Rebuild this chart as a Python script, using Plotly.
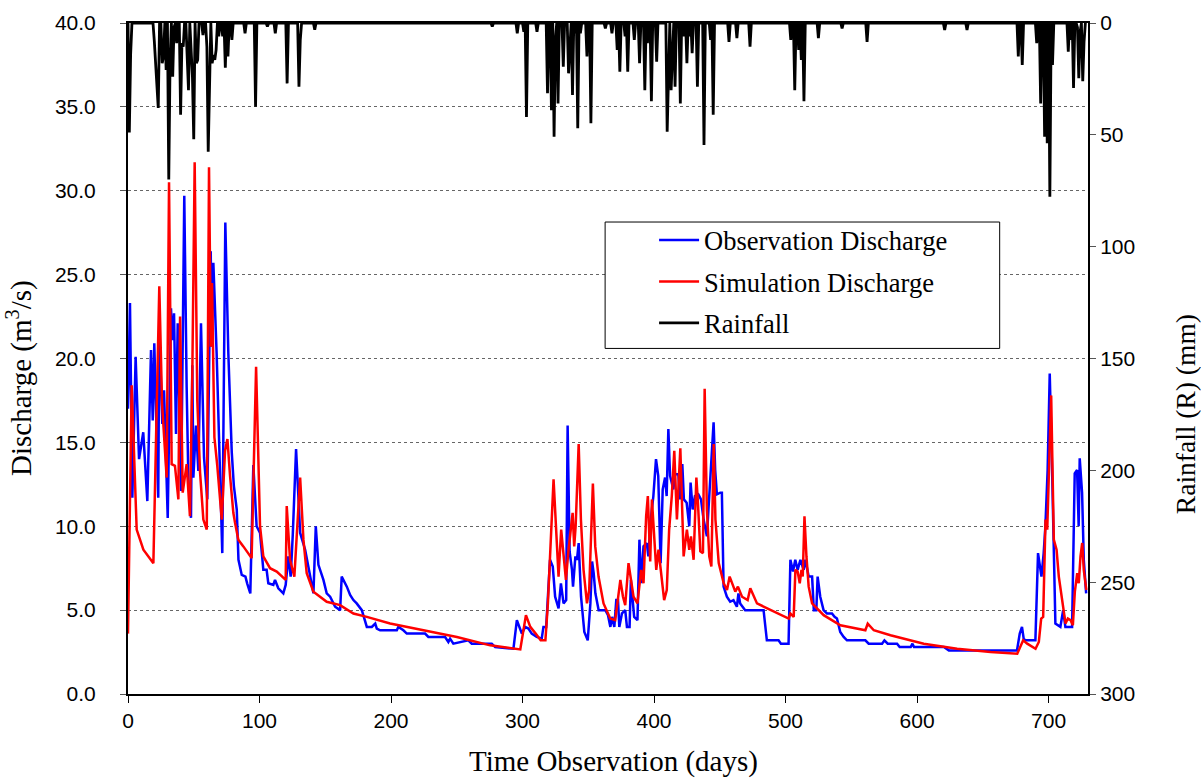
import plotly.graph_objects as go
import numpy as np

# ---------------- data ----------------
obs_days = [0, 1.5, 3.3, 5.8, 8.4, 11.6, 14.7, 17.5, 18.8, 20.0, 23.0, 23.8, 26.1, 27.4, 30.2, 32.7,
            33.7, 35.0, 36.5, 37.8, 40.4, 42.8, 44.6, 45.9, 47.9, 48.9, 49.7, 51.7, 53.5, 55.5, 57.8,
            60.3, 62.9, 63.7, 64.9, 67.4, 69.9, 71.7, 74.0, 76.3, 78.9, 80.5, 82.7, 84.0, 86.5, 89.3,
            90.6, 93.0, 95.3, 96.6, 97.8, 100.4, 102.9, 105.4, 106.7, 110.5, 111.8, 114.3, 118.1,
            119.9, 121.9, 123.7, 125.3, 127.8, 129.1, 130.9, 134.7, 136.7, 139.8, 141.0, 142.8, 144.8,
            148.6, 151.1, 153.7, 157.5, 161.3, 162.5, 166.4, 168.9, 171.4, 173.9, 177.8, 181.6, 185.4,
            188.0, 189.2, 191.7, 204.4, 205.6, 209.4, 212.0, 225.9, 228.4, 241.1, 243.6, 244.9, 247.4,
            258.8, 261.4, 276.6, 279.2, 293.1, 295.7, 299.5, 302.0, 304.5, 307.0, 310.8, 314.6, 315.9,
            318.0, 320.9, 323.0, 324.8, 327.4, 329.2, 331.2, 333.2, 334.3, 335.8, 337.6, 338.4, 340.2,
            341.4, 342.7, 344.5, 347.0, 349.6, 351.6, 352.9, 354.1, 355.4, 357.9, 363.0, 365.0, 366.8,
            368.1, 369.8, 371.3, 372.6, 373.6, 375.6, 378.1, 379.4, 381.4, 382.4, 384.9, 387.4, 388.9,
            390.2, 392.0, 394.5, 395.7, 397.5, 399.5, 401.5, 403.2, 405.0, 406.6, 408.4, 409.6, 410.9,
            412.2, 414.7, 416.0, 418.5, 419.7, 421.5, 422.7, 424.8, 426.8, 427.8, 429.4, 431.1, 433.7,
            435.7, 437.7, 440.2, 445.3, 446.5, 447.8, 450.4, 451.6, 452.9, 455.4, 457.9, 460.4, 463.0,
            464.2, 465.5, 469.3, 483.3, 485.8, 494.7, 496.5, 502.3, 503.7, 505.7, 507.4, 509.2, 511.3,
            513.8, 515.1, 517.6, 520.2, 521.5, 523.4, 524.4, 526.4, 528.9, 531.5, 535.3, 537.3, 539.1,
            541.6, 544.2, 546.7, 560.7, 563.2, 573.4, 575.2, 577.7, 584.8, 586.8, 595.2, 596.5, 597.7,
            620.4, 624.2, 676.0, 678.1, 679.8, 681.1, 682.4, 690.0, 692.0, 694.6, 696.3, 697.6, 699.3,
            700.9, 702.7, 705.2, 709.0, 711.1, 712.8, 717.9, 719.9, 721.7, 722.9, 723.7, 725.5, 726.8,
            728.6]
obs_q = [17.0, 23.3, 11.7, 20.1, 14.0, 15.6, 11.5, 20.5, 16.3, 20.9, 11.7, 21.7, 16.1, 18.1, 10.5, 23.0,
         21.1, 22.7, 15.5, 22.1, 12.1, 29.7, 18.3, 12.8, 10.5, 19.6, 12.9, 16.0, 13.3, 22.1, 14.1,
         11.6, 26.4, 20.7, 25.7, 20.3, 13.4, 8.4, 28.1, 20.3, 14.4, 12.4, 11.0, 8.0, 7.1, 7.0,
         6.6, 6.0, 13.65, 12.0, 10.0, 9.6, 7.4, 7.4, 6.6, 6.5, 6.8, 6.3, 6.0,
         6.5, 8.2, 7.0, 9.5, 14.6, 12.4, 9.6, 8.6, 7.8, 6.4, 6.0, 10.0, 7.7,
         6.8, 6.0, 5.8, 5.2, 5.0, 7.0, 6.4, 5.9, 5.6, 5.4, 5.0, 4.0, 4.0,
         4.2, 3.9, 3.8, 3.8, 4.0, 3.8, 3.6, 3.6, 3.4, 3.4, 3.1, 3.3, 3.0,
         3.2, 3.0, 3.0, 2.8, 2.7, 4.4, 3.6, 4.0, 3.9, 3.6, 3.4, 3.3, 4.0,
         4.0, 8.0, 7.6, 5.8, 5.1, 6.6, 5.4, 5.6, 16.0, 8.5, 7.4, 6.4, 8.2,
         8.0, 9.0, 5.8, 3.7, 3.2, 5.4, 7.9, 7.2, 6.0, 5.0, 5.0, 4.7, 4.0,
         4.6, 4.0, 5.6, 5.6, 4.0, 4.8, 5.0, 4.0, 4.0, 6.8, 4.6, 4.4, 9.2,
         6.6, 8.8, 9.0, 8.2, 10.4, 11.8, 14.0, 13.0, 7.8, 12.2, 12.9, 11.8, 15.8,
         13.0, 12.2, 13.1, 13.1, 11.6, 13.7, 11.6, 11.4, 10.0, 12.6, 11.0, 11.8, 11.9,
         11.6, 10.4, 9.4, 16.2, 13.35, 11.9, 12.0, 12.0, 6.4, 5.8, 5.5, 5.6, 5.2,
         6.0, 5.4, 5.0, 5.0, 3.2, 3.2, 3.0, 3.0, 8.0, 7.3, 8.0, 7.4, 8.0,
         7.4, 8.0, 7.0, 7.0, 5.0, 5.0, 7.0, 5.8, 5.0, 4.8, 4.8, 4.6, 4.5,
         3.7, 3.4, 3.2, 3.2, 3.0, 3.0, 3.2, 3.0, 3.0, 2.8, 2.8, 3.0, 2.8,
         2.8, 2.6, 2.6, 3.6, 4.0, 3.3, 3.2, 3.2, 8.4, 7.0, 8.4, 10.0, 13.35,
         19.1, 13.35, 4.2, 4.0, 5.0, 4.0, 4.0, 13.15, 13.35, 10.0, 14.05, 12.0, 8.0,
         6.0]

sim_days = [0, 2.8, 6.6, 11.7, 19.3, 23.8, 25.9, 29.4, 31.2, 33.2, 35.7, 38.3, 39.6, 41.6, 44.6,
            47.1, 48.9, 50.7, 52.7, 54.8, 57.3, 59.9, 61.6, 63.0, 63.9, 65.7, 67.9, 70.0, 71.3,
            73.8, 75.6, 77.6, 80.1, 81.4, 83.9, 87.7, 91.5, 94.0, 97.4, 100.4, 102.9, 108.0, 113.1,
            119.9, 120.7, 123.2, 126.5, 130.9, 133.4, 135.9, 141.0, 151.1, 161.3, 171.4, 181.6,
            199.3, 224.7, 250.1, 275.4, 298.3, 302.6, 305.9, 310.0, 313.8, 317.4, 319.3, 323.6,
            325.4, 327.4, 329.4, 331.2, 333.0, 335.0, 336.3, 338.1, 339.3, 340.4, 342.7, 344.4,
            346.4, 349.0, 350.7, 352.0, 353.5, 355.3, 357.8, 361.6, 366.7, 370.5, 372.3, 374.4,
            376.4, 378.1, 380.6, 382.4, 384.4, 387.4, 390.2, 392.0, 394.0, 395.3, 397.1, 398.4,
            400.1, 401.7, 403.4, 405.4, 407.7, 409.7, 411.5, 413.5, 415.4, 417.4, 420.0, 422.5,
            425.0, 426.8, 428.1, 430.1, 432.2, 433.4, 435.2, 437.2, 438.5, 440.2, 442.0, 443.6,
            445.4, 446.7, 449.2, 453.0, 455.5, 457.5, 460.1, 461.8, 463.8, 466.9, 471.2, 473.2,
            478.3, 491.0, 502.4, 503.7, 506.2, 507.5, 509.2, 510.8, 512.1, 513.1, 514.4, 515.9,
            517.6, 520.2, 524.0, 529.0, 541.7, 560.7, 562.5, 567.1, 579.8, 605.1, 630.5, 655.9,
            676.2, 678.7, 680.7, 683.8, 690.1, 692.6, 694.4, 695.9, 697.7, 699.0, 700.2, 702.0,
            704.0, 706.1, 707.8, 710.4, 712.9, 714.7, 716.7, 718.5, 720.0, 721.8, 723.0, 724.3,
            725.6, 726.8, 728.7]
sim_q = [3.6, 18.4, 9.8, 8.6, 7.8, 24.3, 17.3, 12.9, 30.5, 13.7, 13.6, 11.6, 22.5, 12.0, 13.7,
         10.6, 19.1, 31.7, 17.5, 13.2, 10.4, 9.8, 31.4, 20.7, 24.5, 15.3, 13.6, 11.8, 10.4,
         14.5, 15.2, 13.0, 10.8, 10.2, 9.2, 8.8, 8.4, 8.1, 19.5, 10.0, 8.2, 7.5, 7.3,
         6.8, 11.2, 8.0, 7.0, 12.9, 9.2, 7.2, 6.1, 5.5, 5.3, 4.8, 4.6,
         4.2, 3.8, 3.4, 2.9, 2.66, 4.7, 4.0, 3.6, 3.2, 3.2, 5.4, 12.8,
         10.0, 7.0, 9.8, 8.2, 6.8, 8.6, 9.4, 10.8, 8.8, 10.0, 14.9, 10.4,
         7.4, 5.4, 6.2, 9.0, 12.55, 8.8, 7.0, 5.4, 4.5, 4.4, 5.4, 6.8,
         5.8, 5.3, 7.8, 6.8, 5.8, 5.4, 7.4, 6.6, 10.6, 11.8, 7.9, 11.6,
         9.0, 7.4, 8.6, 7.0, 5.6, 6.2, 9.8, 11.8, 14.5, 10.4, 14.65, 8.2,
         9.8, 8.6, 9.4, 8.0, 12.9, 11.4, 8.5, 8.4, 18.2, 11.0, 8.2, 7.6,
         14.9, 10.4, 7.8, 6.6, 6.2, 7.0, 6.4, 6.1, 6.4, 5.8, 5.6, 6.3,
         5.4, 4.9, 4.5, 4.8, 4.6, 7.4, 7.3, 6.6, 7.4, 7.0, 10.6, 8.2,
         6.4, 5.4, 5.1, 4.7, 4.1, 3.8, 4.2, 3.8, 3.5, 3.0, 2.7, 2.5,
         2.4, 2.8, 3.2, 3.0, 2.7, 3.1, 4.5, 4.6, 10.4, 9.8, 13.35, 17.8,
         9.2, 8.6, 7.0, 5.4, 4.2, 4.5, 4.4, 4.1, 6.1, 7.2, 6.6, 8.2,
         9.0, 7.4, 6.2]

# rainfall: days with rain and depth (mm); all other days have zero rain
rain_days = [1, 2, 20, 21, 22, 23, 26, 27, 29, 31, 32, 34, 35, 37, 40, 41, 42, 45, 46, 48, 49, 50,
             52, 53, 57, 60, 61, 62, 64, 65, 66, 67, 69, 72, 74, 76, 79, 89, 97, 106, 112, 121,
             130, 131, 142, 277, 296, 301, 303, 311, 319, 322, 324, 325, 327, 331, 335, 336, 338,
             340, 342, 344, 349, 352, 363, 368, 372, 374, 378, 380, 385, 389, 393, 395, 398, 402,
             410, 411, 413, 414, 416, 420, 423, 425, 427, 429, 433, 438, 443, 445, 457, 463, 473,
             504, 507, 510, 512, 514, 525, 543, 562, 621, 638, 677, 680, 691, 694, 697, 699, 701,
             703, 715, 717, 719, 722, 723, 724, 726, 727]
rain_mm = [49, 14, 8, 17, 27, 38, 18, 15, 21, 70, 16.5, 24, 2, 9, 41, 9, 10.6, 13.5, 30, 16.5, 24, 52,
           18, 16.5, 5.4, 10.6, 57.5, 31.4, 18, 14.3, 16.5, 12, 6, 6, 20, 15, 7.6, 4.6, 37.4, 1.6, 4.6, 27,
           28.5, 7.6, 3, 1.6, 4.6, 3.9, 42, 3.9, 31.4, 39, 50.8, 7.6, 36, 19.5, 22.5, 10.6, 32.2,
           4.6, 47, 4.6, 15, 44.8, 2.4, 4.6, 12, 21.8, 6, 21.8, 7.6, 18, 30, 9, 35, 17.3,
           48.6, 16.5, 30, 18, 28.5, 36, 6, 18, 6, 13.5, 28.5, 54.5, 7.6, 41, 8.4, 6.8, 10.6,
           7.6, 30, 12, 16.5, 35, 6.8, 2.4, 8.4, 3.1, 3.1, 15, 18.8, 9, 36, 50.8, 53.8, 77.7,
           18.8, 12.8, 7.6, 29, 2, 24.7, 4, 26, 8.4]

n_days = 730
rain_series = np.zeros(n_days)
for d, r in zip(rain_days, rain_mm):
    rain_series[d] = r
rain_x = np.arange(n_days)

x_ticks = [0, 100, 200, 300, 400, 500, 600, 700]

SERIF = "Liberation Serif, Times New Roman, serif"
SANS = "Liberation Sans, Arial, sans-serif"

fig = go.Figure()
fig.add_trace(go.Scatter(x=obs_days, y=obs_q, mode="lines", name="Observation Discharge",
                         line=dict(color="#0000FF", width=2.5), legendgroup="a"))
fig.add_trace(go.Scatter(x=sim_days, y=sim_q, mode="lines", name="Simulation Discharge",
                         line=dict(color="#FF0000", width=2.5), legendgroup="b"))
fig.add_trace(go.Scatter(x=rain_x, y=rain_series, mode="lines", name="Rainfall", yaxis="y2",
                         line=dict(color="#000000", width=2.8), legendgroup="c"))

fig.update_layout(
    width=1201, height=778,
    margin=dict(l=128, r=113, t=23, b=84),
    paper_bgcolor="white", plot_bgcolor="white",
    showlegend=True,
    legend=dict(x=0.548, y=0.712, xanchor="left", yanchor="top",
                bgcolor="rgba(0,0,0,0)", borderwidth=0,
                font=dict(family=SERIF, size=26.5, color="black"),
                tracegroupgap=4, itemwidth=40),
    xaxis=dict(range=[0, 730], tickvals=x_ticks, ticks="outside", ticklen=7, tickwidth=1,
               tickcolor="black", showline=True, linecolor="black", linewidth=2, mirror=True,
               showgrid=False, zeroline=False, automargin=False,
               tickfont=dict(family=SANS, size=21, color="black")),
    yaxis=dict(range=[0, 40], dtick=5, tickformat=".1f", ticks="outside", ticklen=6,
               tickcolor="#555", showline=True, linecolor="black", linewidth=2,
               showgrid=True, gridcolor="#666", griddash="dot", gridwidth=1, zeroline=False,
               automargin=False, ticklabelstandoff=20,
               tickfont=dict(family=SANS, size=21, color="black")),
    yaxis2=dict(range=[300, 0], dtick=50, overlaying="y", side="right", ticks="outside", ticklen=6,
                tickcolor="#555", showline=True, linecolor="black", linewidth=2,
                showgrid=False, zeroline=False, automargin=False,
                tickfont=dict(family=SANS, size=21, color="black")),
    shapes=[dict(type="rect", xref="paper", yref="paper", x0=0.497, x1=0.908, y0=0.515, y1=0.7034,
                 fillcolor="white", line=dict(color="black", width=1), layer="above")],
    annotations=[
        dict(text="Time Observation (days)", xref="paper", yref="paper", x=0.506, y=-0.1,
             xanchor="center", yanchor="middle", showarrow=False,
             font=dict(family=SERIF, size=29, color="black")),
        dict(text="Discharge (m<sup>3</sup>/s)", xref="paper", yref="paper", x=-0.1125, y=0.471,
             xanchor="center", yanchor="middle", showarrow=False, textangle=-90,
             font=dict(family=SERIF, size=29, color="black")),
        dict(text="Rainfall (R) (mm)", xref="paper", yref="paper", x=1.101, y=0.417,
             xanchor="center", yanchor="middle", showarrow=False, textangle=-90,
             font=dict(family=SERIF, size=27.5, color="black")),
    ],
)

fig.write_html("out.html", post_script="document.body.style.margin='0';",
               config={"displayModeBar": False})
